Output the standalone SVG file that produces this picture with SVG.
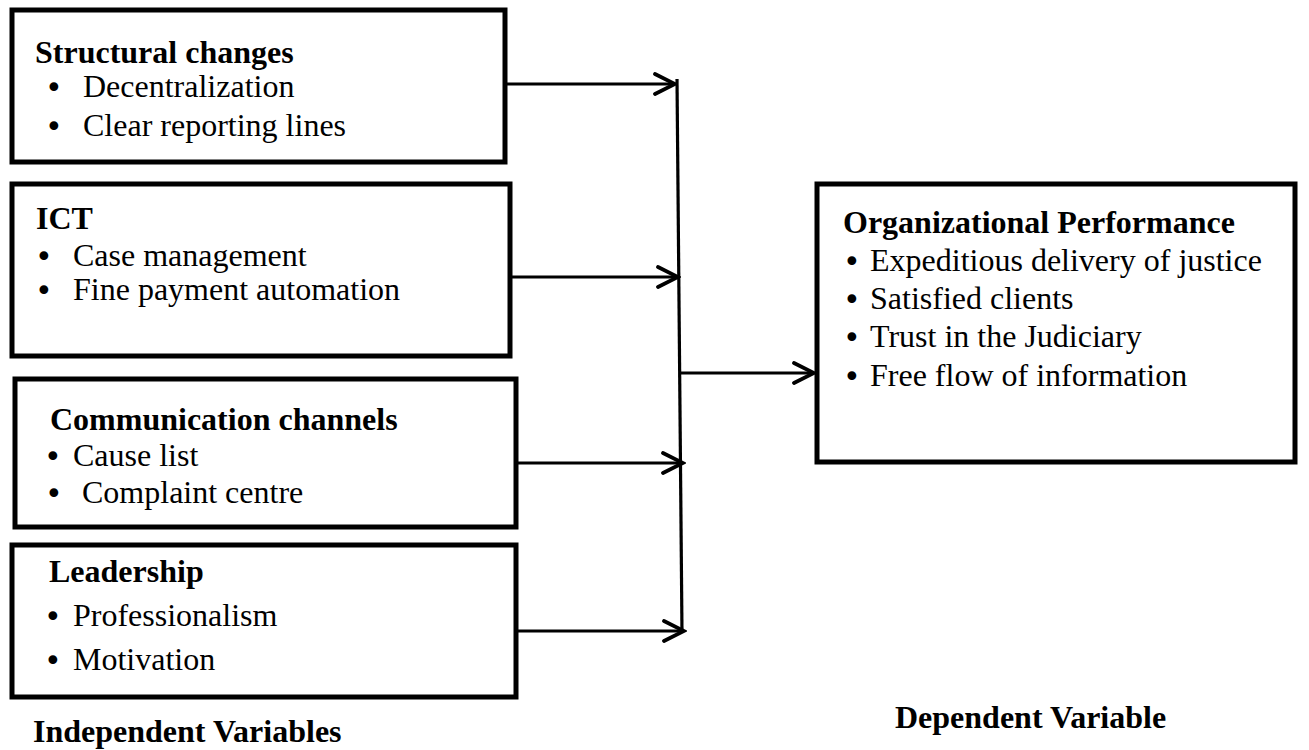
<svg xmlns="http://www.w3.org/2000/svg" width="1309" height="750" viewBox="0 0 1309 750">
  <style>
    .box { fill: #ffffff; stroke: #000000; stroke-width: 5; }
    .h { font-family: "Liberation Serif", "Times New Roman", serif; font-weight: bold; font-size: 32px; fill: #000; }
    .t { font-family: "Liberation Serif", "Times New Roman", serif; font-size: 32px; fill: #000; }
    .b { font-family: "DejaVu Sans", sans-serif; font-size: 30px; fill: #000; }
    .conn { fill: none; stroke: #000000; stroke-width: 3.2; }
  </style>
  <defs>
    <marker id="arr" markerUnits="userSpaceOnUse" markerWidth="26" markerHeight="26" viewBox="-23 -13 26 26" refX="0" refY="0" orient="auto">
      <path d="M-20,-10 L0,0 L-20,10" fill="none" stroke="#000" stroke-width="3.8" stroke-linecap="round"/>
    </marker>
  </defs>
  <rect width="1309" height="750" fill="#ffffff"/>

  <g id="structural">
    <rect class="box" x="12" y="10" width="493" height="152"/>
    <text class="h" x="35" y="63">Structural changes</text>
    <text class="b" x="45" y="98">•</text>
    <text class="t" x="83" y="97">Decentralization</text>
    <text class="b" x="45" y="137">•</text>
    <text class="t" x="83" y="136">Clear reporting lines</text>
  </g>

  <g id="ict">
    <rect class="box" x="12" y="184" width="498" height="172"/>
    <text class="h" x="36" y="229">ICT</text>
    <text class="b" x="35" y="267">•</text>
    <text class="t" x="73" y="266">Case management</text>
    <text class="b" x="35" y="301">•</text>
    <text class="t" x="73" y="300">Fine payment automation</text>
  </g>

  <g id="communication">
    <rect class="box" x="15" y="379" width="501" height="148"/>
    <text class="h" x="50" y="430">Communication channels</text>
    <text class="b" x="44" y="467">•</text>
    <text class="t" x="73" y="466">Cause list</text>
    <text class="b" x="45" y="504">•</text>
    <text class="t" x="82" y="503">Complaint centre</text>
  </g>

  <g id="leadership">
    <rect class="box" x="12" y="545" width="504" height="152"/>
    <text class="h" x="49" y="582">Leadership</text>
    <text class="b" x="44" y="627">•</text>
    <text class="t" x="73" y="626">Professionalism</text>
    <text class="b" x="44" y="671">•</text>
    <text class="t" x="73" y="670">Motivation</text>
  </g>

  <g id="performance">
    <rect class="box" x="817" y="184" width="478" height="278"/>
    <text class="h" x="843" y="233">Organizational Performance</text>
    <text class="b" x="843" y="272">•</text>
    <text class="t" x="870" y="271">Expeditious delivery of justice</text>
    <text class="b" x="843" y="310">•</text>
    <text class="t" x="870" y="309">Satisfied clients</text>
    <text class="b" x="843" y="348">•</text>
    <text class="t" x="870" y="347">Trust in the Judiciary</text>
    <text class="b" x="843" y="387">•</text>
    <text class="t" x="870" y="386">Free flow of information</text>
  </g>

  <g id="labels">
    <text class="h" x="33" y="742">Independent Variables</text>
    <text class="h" x="895" y="728">Dependent Variable</text>
  </g>

  <g id="connectors">
    <path class="conn" d="M677,79 L682,633" stroke-width="3.6"/>
    <path class="conn" d="M507,84 L675,84" marker-end="url(#arr)"/>
    <path class="conn" d="M512,277 L678,277" marker-end="url(#arr)"/>
    <path class="conn" d="M518,463 L683,463" marker-end="url(#arr)"/>
    <path class="conn" d="M518,631 L684,631" marker-end="url(#arr)"/>
    <path class="conn" d="M680,373 L814,373" marker-end="url(#arr)"/>
  </g>
</svg>
